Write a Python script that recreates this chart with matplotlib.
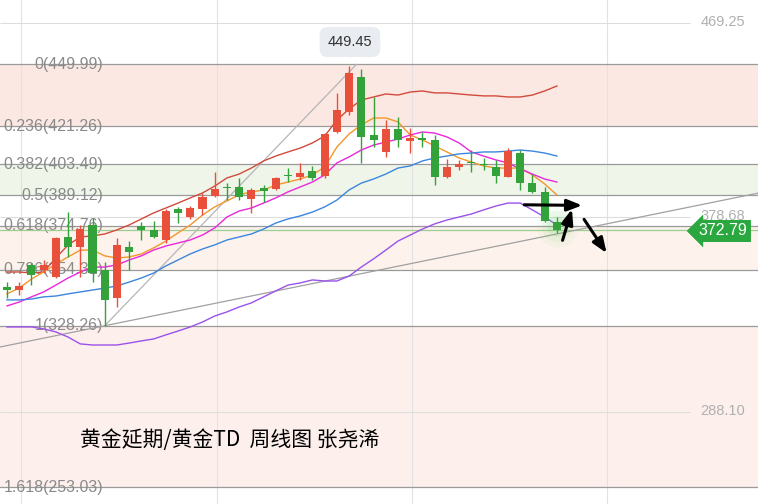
import numpy as np
import matplotlib.pyplot as plt

plt.rcParams['font.family'] = ['Liberation Sans', 'DejaVu Sans']

# weekly candles (Chinese colouring: red = up, green = down)
opens = [346.3, 344.9, 356.6, 354.2, 351.0, 369.6, 364.9, 375.2, 354.2, 341.2,
         364.9, 374.7, 372.9, 368.2, 382.6, 378.9, 382.6, 388.7, 392.6, 392.9,
         387.3, 392.4, 391.9, 398.5, 397.5, 400.3, 398.0, 418.5, 427.8, 444.1,
         417.1, 409.2, 419.9, 414.3, 415.7, 414.8, 397.5, 402.2, 404.3, 403.6,
         402.2, 397.5, 408.7, 394.7, 390.6, 376.6]
highs = [348.6, 348.6, 357.5, 358.9, 369.6, 381.2, 375.2, 378.4, 358.0, 369.1,
         367.7, 376.6, 377.0, 382.6, 383.6, 384.0, 390.1, 399.9, 394.7, 397.1,
         392.4, 393.8, 397.5, 401.7, 404.1, 402.7, 418.0, 436.6, 449.45, 447.8,
         434.8, 424.1, 425.5, 420.4, 418.5, 417.1, 405.9, 405.5, 410.1, 406.4,
         405.5, 411.0, 410.1, 398.9, 392.9, 378.9]
lows = [341.2, 342.6, 347.2, 352.8, 350.5, 360.3, 351.0, 348.6, 328.26, 337.0,
        354.2, 368.2, 369.1, 366.8, 376.1, 378.0, 379.8, 388.2, 386.8, 386.8,
        380.8, 385.9, 391.5, 395.2, 396.1, 396.1, 397.1, 418.0, 426.4, 404.1,
        411.5, 406.9, 411.5, 408.7, 411.5, 393.8, 397.1, 400.8, 399.9, 400.8,
        394.7, 397.5, 391.5, 390.1, 376.6, 371.5]
closes = [344.9, 346.8, 351.9, 356.6, 369.1, 364.9, 373.3, 352.8, 340.3, 365.9,
          362.6, 372.9, 369.6, 381.7, 380.8, 383.1, 388.2, 392.0, 392.2, 388.2,
          391.5, 391.0, 397.1, 397.8, 399.4, 397.1, 417.6, 428.7, 446.0, 416.2,
          414.8, 419.9, 414.8, 415.7, 414.8, 397.5, 402.2, 403.6, 404.0, 403.1,
          398.0, 409.6, 394.7, 390.6, 377.0, 372.79]

# moving averages / bands
ma_red = [353.3, 353.3, 352.8, 353.3, 359.8, 365.9, 369.6, 370.1, 371.0, 372.9,
          375.2, 378.0, 380.8, 383.1, 385.4, 387.8, 390.1, 393.3, 397.1, 398.9,
          401.7, 405.0, 407.3, 409.2, 411.0, 413.4, 416.6, 424.1, 429.2, 433.4,
          434.8, 436.2, 435.7, 437.1, 437.6, 436.7, 436.7, 436.2, 435.7, 435.3,
          435.3, 434.8, 434.8, 435.7, 437.6, 439.9]
ma_orange = [343.1, 345.8, 350.0, 353.3, 357.0, 360.3, 363.5, 363.5, 360.8, 359.8,
             360.3, 361.7, 364.5, 367.7, 371.5, 375.2, 379.8, 383.6, 386.4, 389.2,
             390.6, 391.5, 393.8, 395.2, 396.6, 398.5, 402.2, 411.5, 417.6, 421.8,
             425.0, 425.0, 423.2, 417.1, 414.8, 412.0, 409.2, 406.4, 404.5, 402.7,
             401.7, 401.7, 401.7, 398.5, 394.3, 389.2]
ma_magenta = [337.5, 339.3, 341.7, 344.0, 347.2, 350.5, 353.3, 355.6, 355.6, 356.6,
              358.9, 360.8, 363.5, 365.4, 366.8, 368.2, 370.5, 373.8, 378.9, 381.7,
              383.1, 385.4, 387.8, 390.6, 392.9, 395.2, 398.5, 404.1, 406.9, 410.1,
              412.4, 413.8, 415.2, 417.1, 418.5, 418.0, 416.2, 413.4, 409.2, 407.3,
              405.5, 404.1, 401.3, 398.9, 396.6, 395.2]
ma_blue = [340.3, 340.3, 340.7, 341.7, 342.1, 343.1, 344.0, 344.9, 345.8, 346.8,
           348.6, 350.5, 352.8, 356.1, 358.9, 361.7, 364.0, 365.9, 368.2, 369.6,
           371.0, 373.3, 376.1, 378.0, 379.4, 381.2, 383.6, 386.8, 391.5, 394.7,
           396.6, 398.9, 401.7, 402.7, 405.0, 406.4, 407.3, 408.3, 408.7, 409.2,
           409.2, 409.6, 410.1, 409.6, 408.7, 407.3]
ma_purple = [327.7, 327.7, 327.7, 326.8, 325.4, 323.0, 319.8, 319.3, 319.3, 319.3,
             320.2, 321.2, 322.1, 324.0, 325.8, 327.7, 330.0, 332.8, 334.7, 337.0,
             338.9, 341.7, 344.5, 347.2, 348.2, 349.6, 349.1, 349.1, 351.4, 355.6,
             359.4, 363.5, 367.7, 370.5, 373.3, 375.7, 377.5, 378.9, 380.3, 382.2,
             384.0, 385.4, 385.4, 382.2, 378.9, 375.2]

fib_ratios = ['0', '0.236', '0.382', '0.5', '0.618', '0.786', '1', '1.618']
fib_prices = [449.99, 421.26, 403.49, 389.12, 374.76, 354.31, 328.26, 253.03]
axis_prices = [469.25, 378.68, 288.10]
last_price = 372.79
high_price = 449.45

x = np.arange(len(closes))
o, h, l, c = map(np.array, (opens, highs, lows, closes))
up = c >= o

fig = plt.figure(figsize=(7.58, 5.04), dpi=100)
ax = fig.add_axes([0, 0, 1, 1])
ax.set_xlim(-0.57, 61.46)
ax.set_ylim(245.25, 479.96)
ax.axis('off')

# fib bands
band_cols = ['#fce8e3', 'white', '#eff6e9', 'white', '#fdf3ec', 'white', '#fdefec']
for i, col in enumerate(band_cols):
    ax.axhspan(fib_prices[i + 1], fib_prices[i], color=col, lw=0, zorder=0)

# grid
for gx in [1.15, 17.18, 33.14, 49.1]:
    ax.axvline(gx, color='#e2e2e2', lw=0.8, zorder=1)
for p in axis_prices:
    ax.hlines(p, -0.57, 55.9, color='#dddddd', lw=0.8, zorder=1)
    ax.text(60.4, p + 0.6, f'{p:.2f}', ha='right', va='center', color='#b0b0b0',
            fontsize=10.5, zorder=2)

# fib levels
for r, p in zip(fib_ratios, fib_prices):
    ax.axhline(p, color='#9a9a9a', lw=0.9, zorder=2)
    ax.text(7.86, p, f'{r}({p:.2f})', ha='right', va='center', color='#8a8a8a',
            fontsize=11.5, zorder=2)

# diagonal helper lines
ax.plot([8, 28.6], [328.26, 449.99], color='#b5b5b5', lw=0.9, zorder=3)
slope = (371.0 - 328.26) / (45 - 8)
xs = np.array([-0.57, 61.46])
ax.plot(xs, 328.26 + slope * (xs - 8), color='#a0a0a0', lw=0.9, zorder=3)

ax.axhline(last_price, color='#9ccf8f', lw=0.9, zorder=2)

# moving averages
ax.plot(x, ma_red, color='#d24a3c', lw=1, zorder=4)
ax.plot(x, ma_orange, color='#f4962a', lw=1, zorder=4)
ax.plot(x, ma_magenta, color='#ea27dc', lw=1, zorder=4)
ax.plot(x, ma_blue, color='#3b86de', lw=1, zorder=4)
ax.plot(x, ma_purple, color='#9a52ea', lw=1, zorder=4)

# candles
red, green = '#e8503c', '#33a23a'
cols = np.where(up, red, green)
ax.vlines(x, l, h, colors=cols, lw=1, zorder=5)
body = np.maximum(np.abs(c - o), 0.5)
ax.bar(x, body, bottom=np.minimum(o, c), width=0.66, color=cols, zorder=6)

# glow on the last candle
for s, a in [(900, 0.05), (500, 0.08), (220, 0.12)]:
    ax.scatter(x[-1], (o[-1] + c[-1]) / 2, s=s, color='#5fd35f', alpha=a,
               lw=0, zorder=4)

# arrows
akw = dict(arrowstyle='-|>,head_length=0.9,head_width=0.35', color='black', lw=2.2)
ax.annotate('', xy=(47.3, 384.3), xytext=(42.1, 384.6), arrowprops=akw, zorder=8)
ax.annotate('', xy=(46.3, 383.8), xytext=(45.4, 366.8), arrowprops=akw, zorder=8)
ax.annotate('', xy=(49.2, 361.0), xytext=(47.1, 378.9), arrowprops=akw, zorder=8)

# price tags
ax.text(58.6, last_price - 0.4, f'{last_price:.2f}', ha='center', va='center',
        color='white', fontsize=11.5, zorder=9,
        bbox=dict(boxstyle='larrow,pad=0.22', fc='#2aa83f', ec='none'))
ax.text(28.07, 460.4, f'{high_price:.2f}', ha='center', va='center',
        color='#333333', fontsize=10.5, zorder=9,
        bbox=dict(boxstyle='round,pad=0.55', fc='#e9ecf0', ec='none'))
ax.scatter([28.07], [455.8], marker='v', s=45, color='#e9ecf0', zorder=9)

ax.text(5.97, 275.1, '黄金延期/黄金TD  周线图 张尧浠', ha='left', va='center',
        fontsize=15, color='black', family=['Noto Sans CJK SC', 'DejaVu Sans'],
        zorder=9)

fig.savefig('out.png', dpi=100)
